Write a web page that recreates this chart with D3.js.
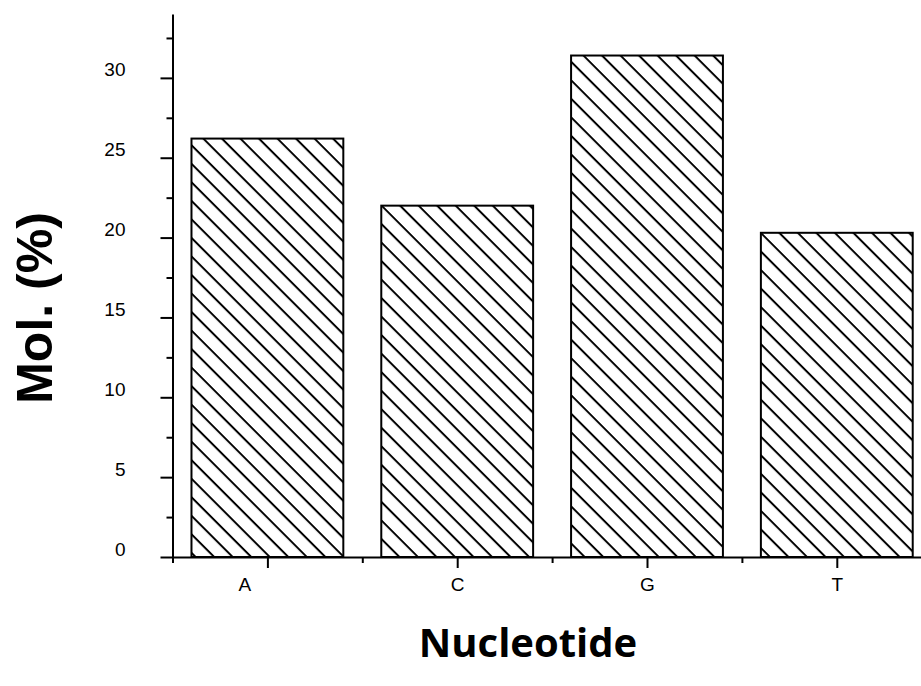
<!DOCTYPE html>
<html lang="en">
<head>
<meta charset="utf-8">
<title>Nucleotide composition</title>
<script src="https://d3js.org/d3.v7.min.js"></script>
<style>
    body { margin: 0; background: #fff; }
    svg { display: block; }
    .axis path, .axis line { stroke: #000; stroke-width: 2px; }
    .axis text { font-family: "Liberation Sans", Arial, sans-serif; font-size: 19px; fill: #000; }
    .bar { stroke: #000; stroke-width: 2px; }
    .ytitle { font-family: "Liberation Sans", Arial, sans-serif; font-weight: bold; font-size: 50px; }
    .xtitle { font-family: "Open Sans", sans-serif; font-weight: bold; font-size: 40px; }
</style>
</head>
<body>
<svg></svg>
<script>
    // data
    var nucleotides = ["A", "C", "G", "T"];
    var molPercent = [26.2, 22.0, 31.4, 20.3];
    var yTicks = [0, 5, 10, 15, 20, 25, 30];
    var yMinorTicks = [2.5, 7.5, 12.5, 17.5, 22.5, 27.5, 32.5];

    var width = 921, height = 686;
    var svg = d3.select("svg").attr("width", width).attr("height", height);

    // hatch fill
    var defs = svg.append("defs");
    defs.append("pattern")
        .attr("id", "hatch")
        .attr("patternUnits", "userSpaceOnUse")
        .attr("width", 13.1)
        .attr("height", 13.1)
        .attr("patternTransform", "rotate(-45)")
        .append("line")
        .attr("x1", 6.5).attr("y1", -2)
        .attr("x2", 6.5).attr("y2", 16)
        .attr("stroke", "#000")
        .attr("stroke-width", 2);

    var x = d3.scaleLinear().domain([0.5, 4.5]).range([172.5, 931.7]);
    var y = d3.scaleLinear().domain([0, 34]).range([557, 14]);
    var step = x(2) - x(1);

    // bars
    svg.selectAll(".bar")
        .data(molPercent)
        .enter().append("rect")
        .attr("class", "bar")
        .attr("x", (d, i) => x(i + 1) - step * 0.4)
        .attr("width", step * 0.8)
        .attr("y", d => y(d))
        .attr("height", d => y(0) - y(d))
        .attr("fill", "url(#hatch)");

    // y axis
    var yAxis = svg.append("g").attr("class", "axis")
        .attr("transform", "translate(" + x(0.5) + ",0)")
        .call(d3.axisLeft(y).tickValues(yTicks).tickSize(12).tickSizeOuter(0).tickFormat(d3.format("d")));
    yAxis.selectAll("text").attr("x", -47).attr("dy", "0.32em").attr("y", -8);

    svg.append("g").attr("class", "axis")
        .attr("transform", "translate(" + x(0.5) + ",0)")
        .call(d3.axisLeft(y).tickValues(yMinorTicks).tickSize(6).tickFormat(""))
        .select(".domain").remove();

    // x axis
    var xAxis = svg.append("g").attr("class", "axis")
        .attr("transform", "translate(0," + y(0) + ")")
        .call(d3.axisBottom(x).tickValues([1, 2, 3, 4]).tickSize(11).tickSizeOuter(0)
            .tickFormat((d, i) => nucleotides[i]));
    xAxis.selectAll("text").attr("y", 21);
    xAxis.selectAll(".tick text").filter((d, i) => i == 0).attr("dx", -23);

    svg.append("g").attr("class", "axis")
        .attr("transform", "translate(0," + y(0) + ")")
        .call(d3.axisBottom(x).tickValues([0.5, 1.5, 2.5, 3.5, 4.5]).tickSize(6).tickFormat(""))
        .select(".domain").remove();

    // titles
    svg.append("text").attr("class", "ytitle")
        .attr("transform", "translate(52,308) rotate(-90)")
        .attr("text-anchor", "middle")
        .text("Mol. (%)");

    svg.append("text").attr("class", "xtitle")
        .attr("x", 528).attr("y", 657)
        .attr("text-anchor", "middle")
        .text("Nucleotide");
</script>
</body>
</html>
